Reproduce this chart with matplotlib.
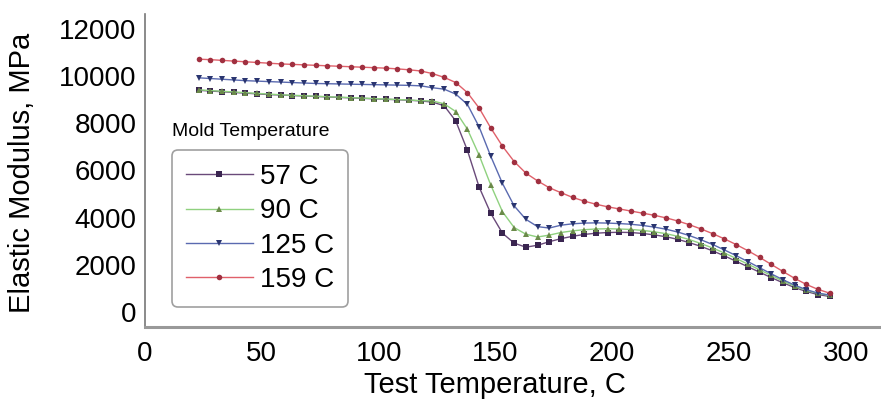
import matplotlib.pyplot as plt

plt.rcParams['font.family'] = ['Liberation Sans', 'DejaVu Sans']

# Test temperature (C)
temps = [23, 28, 33, 38, 43, 48, 53, 58, 63, 68,
         73, 78, 83, 88, 93, 98, 103, 108, 113, 118,
         123, 128, 133, 138, 143, 148, 153, 158, 163, 168,
         173, 178, 183, 188, 193, 198, 203, 208, 213, 218,
         223, 228, 233, 238, 243, 248, 253, 258, 263, 268,
         273, 278, 283, 288, 293]

# Elastic modulus (MPa) per mold temperature
mod_57 = [9400, 9370, 9340, 9310, 9280, 9250, 9220, 9200, 9180, 9160,
          9140, 9120, 9100, 9080, 9060, 9040, 9020, 9000, 8980, 8950,
          8900, 8750, 8100, 6850, 5300, 4180, 3340, 2920, 2750, 2830,
          2980, 3110, 3210, 3290, 3340, 3370, 3380, 3370, 3330, 3270,
          3190, 3080, 2940, 2780, 2590, 2380, 2150, 1920, 1690, 1460,
          1240, 1040, 870, 740, 660]
mod_90 = [9420, 9390, 9360, 9330, 9300, 9270, 9240, 9210, 9190, 9170,
          9150, 9130, 9110, 9090, 9070, 9050, 9030, 9010, 8990, 8960,
          8950, 8830, 8500, 7750, 6650, 5380, 4250, 3580, 3300, 3180,
          3260, 3370, 3440, 3490, 3520, 3530, 3520, 3500, 3460, 3400,
          3320, 3210, 3070, 2900, 2710, 2500, 2270, 2030, 1790, 1550,
          1310, 1100, 920, 790, 700]
mod_125 = [9930, 9900, 9870, 9840, 9810, 9790, 9770, 9750, 9730, 9710,
           9690, 9680, 9670, 9660, 9650, 9640, 9630, 9620, 9610, 9590,
           9510, 9450, 9240, 8800, 7850, 6600, 5450, 4500, 3930, 3620,
           3560, 3680, 3740, 3770, 3780, 3770, 3750, 3720, 3670, 3600,
           3510, 3390, 3240, 3060, 2860, 2630, 2390, 2140, 1880, 1620,
           1370, 1140, 950, 800, 720]
mod_159 = [10720, 10700, 10670, 10640, 10610, 10580, 10550, 10520, 10500, 10480,
           10460, 10440, 10420, 10400, 10380, 10360, 10340, 10310, 10270, 10220,
           10110, 9950, 9730, 9300, 8650, 7800, 7030, 6380, 5890, 5560,
           5270, 5060, 4860, 4700, 4570, 4460, 4370, 4280, 4190, 4100,
           3990, 3860, 3700, 3520, 3320, 3100, 2860, 2600, 2320, 2020,
           1720, 1430, 1170, 960, 800]

labels = ['57 C', '90 C', '125 C', '159 C']

fig = plt.figure(figsize=(8.81, 4.07), dpi=100)
ax = fig.add_axes([145/881, 1 - 327/407, 736/881, 313/407])

series = [mod_57, mod_90, mod_125, mod_159]
styles = [('#6a4a7a', '#3a2550', 's'),
          ('#8fd17f', '#6b8a4a', '^'),
          ('#5a6ab0', '#2a3570', 'v'),
          ('#e0606a', '#a03040', 'o')]
for vals, lab, (lc, mc, mk) in zip(series, labels, styles):
    ax.plot(temps, vals, color=lc, lw=1.0, marker=mk, ms=4,
            markerfacecolor=mc, markeredgewidth=0, label=lab)

ax.set_xlim(0, 315)
ax.set_ylim(-636, 12636)
ax.set_xticks([0, 50, 100, 150, 200, 250, 300])
ax.set_yticks([0, 2000, 4000, 6000, 8000, 10000, 12000])
ax.tick_params(length=0, labelsize=20)
ax.tick_params(axis='x', pad=10)
ax.tick_params(axis='y', pad=6)
for s in ['top', 'right']:
    ax.spines[s].set_visible(False)
ax.spines['left'].set_color('#777777')
ax.spines['left'].set_linewidth(1.2)
ax.spines['bottom'].set_color('#999999')
ax.spines['bottom'].set_linewidth(2.2)

fig.text(22/881, 1 - 173/407, 'Elastic Modulus, MPa', rotation=90,
         ha='center', va='center', fontsize=21)
fig.text(495/881, 1 - 385/407, 'Test Temperature, C',
         ha='center', va='center', fontsize=21)
fig.text(172/881, 1 - 131/407, 'Mold Temperature',
         ha='left', va='center', fontsize=14)

leg = ax.legend(loc='upper left', bbox_to_anchor=(172/881, 1 - 150/407),
                bbox_transform=fig.transFigure, fontsize=20, frameon=True,
                fancybox=True, edgecolor='#888888', handlelength=2.4,
                labelspacing=0.3, borderpad=0.5, handletextpad=0.25,
                borderaxespad=0)
leg.get_frame().set_linewidth(1.2)

fig.savefig('out.png', dpi=100)
